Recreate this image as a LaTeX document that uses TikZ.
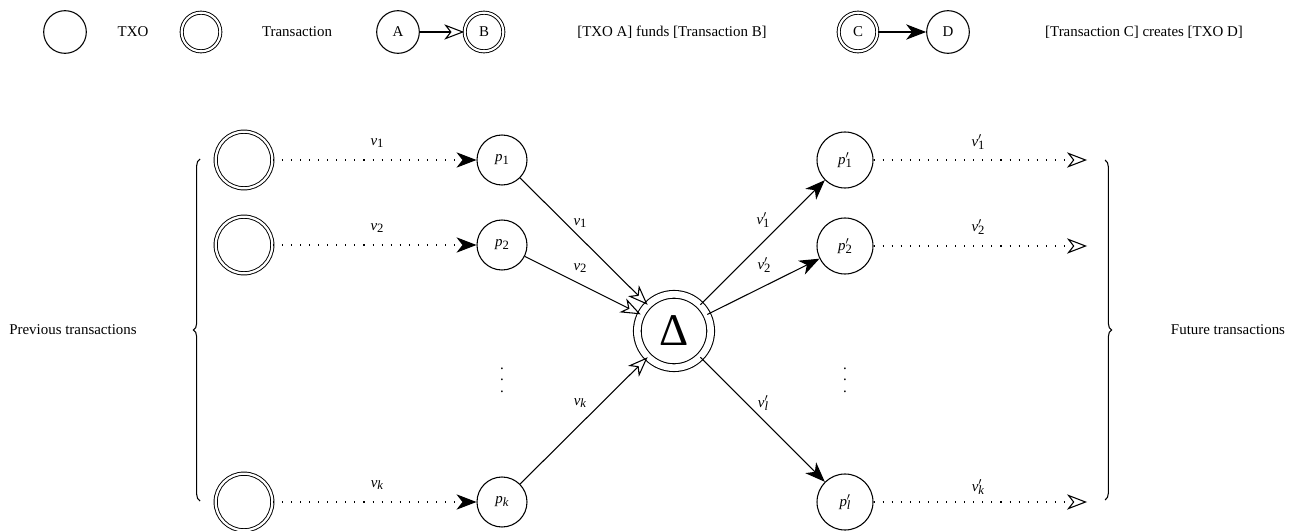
\documentclass[tikz,border=0pt]{standalone}
\usepackage{fontspec}
\setmainfont{Liberation Serif}
\usetikzlibrary{arrows.meta,decorations.pathreplacing}
\newcommand{\subfont}{\fontsize{9.5}{10}\selectfont}
\newcommand{\vlab}[2]{\textit{#1}\raisebox{-0.4ex}{\subfont #2}}
\newcommand{\vplab}[2]{\textit{#1}\rlap{\raisebox{0.2ex}{$^{\prime}$}}\raisebox{-0.4ex}{\subfont #2}}
\tikzset{
  base/.style={font=\fontsize{11.2}{13}\selectfont},
  txo/.style={circle, draw, line width=0.8pt, minimum size=32pt, inner sep=0pt},
  tx/.style={circle, draw, line width=0.7pt, double, double distance=1.6pt, minimum size=29pt, inner sep=0pt},
  pnode/.style={circle, draw, line width=0.8pt, minimum size=37.5pt, inner sep=0pt},
  ppnode/.style={circle, draw, line width=0.8pt, minimum size=42pt, inner sep=0pt},
  bigtx/.style={circle, draw, line width=0.7pt, double, double distance=1.7pt, minimum size=42.5pt, inner sep=0pt},
  deltanode/.style={circle, draw, line width=0.8pt, double, double distance=5pt, minimum size=55pt, inner sep=0pt, font=\fontsize{34}{40}\selectfont},
  lbl/.style={inner sep=0pt},
  fund/.style={line width=0.8pt, -{Stealth[open,length=15pt,width=11.5pt,inset=4.5pt]}},
  create/.style={line width=0.8pt, -{Stealth[length=15pt,width=11.5pt,inset=4.5pt]}},
  dotline/.style={dash pattern=on 0.8pt off 6pt},
  bracebar/.style={line width=0.8pt, decorate, decoration={brace, amplitude=5pt}},
}
\begin{document}
\begin{tikzpicture}[x=0.75pt, y=-0.75pt, base]
\useasboundingbox (0,0) rectangle (1296,531);
% legend
\node[txo] (ltxo) at (65,32) {};
\node (ltxot) at (133,32) {TXO};
\node[tx] (ltx) at (201,32) {};
\node (ltxt) at (297,32) {Transaction};
\node[txo] (la) at (398,32) {A};
\node[tx] (lb) at (484,32) {B};
\draw[fund] (la) -- (lb);
\node (lab) at (672,32) {[TXO A] funds [Transaction B]};
\node[tx] (lc) at (858,32) {C};
\node[txo] (ld) at (948,32) {D};
\draw[create] (lc) -- (ld);
\node (lcd) at (1144,32) {[Transaction C] creates [TXO D]};
% previous transactions
\node[bigtx] (in1) at (244,160) {};
\node[bigtx] (in2) at (244,245) {};
\node[bigtx] (ink) at (244,502) {};
\node[pnode] (p1) at (502,160) {\vlab{p}{1}};
\node[pnode] (p2) at (502,245) {\vlab{p}{2}};
\node[pnode] (pk) at (502,502) {\vlab{p}{\textit{k}}};
\draw[create, dotline] (in1) -- (p1);
\draw[create, dotline] (in2) -- (p2);
\draw[create, dotline] (ink) -- (pk);
\node[lbl] (l1) at (377,143) {\vlab{v}{1}};
\node[lbl] (l2) at (377,228) {\vlab{v}{2}};
\node[lbl] (lk) at (377,485) {\vlab{v}{\textit{k}}};
\node[lbl, align=center, font=\fontsize{11.2}{8.5}\selectfont] (vd1) at (502,380) {.\\.\\.};
% delta
\node[deltanode] (delta) at (674,331) {Δ};
\draw[fund] (p1) -- (delta);
\draw[fund] (p2) -- (delta);
\draw[fund] (pk) -- (delta);
\node[lbl] (m1) at (580,223) {\vlab{v}{1}};
\node[lbl] (m2) at (580,268) {\vlab{v}{2}};
\node[lbl] (mk) at (580,403) {\vlab{v}{\textit{k}}};
% outputs
\node[ppnode] (q1) at (845,160) {\vplab{p}{1}};
\node[ppnode] (q2) at (845,246) {\vplab{p}{2}};
\node[ppnode] (ql) at (845,502) {\vplab{p}{\textit{l}}};
\draw[create] (delta) -- (q1);
\draw[create] (delta) -- (q2);
\draw[create] (delta) -- (ql);
\node[lbl] (n1) at (763,220) {\vplab{v}{1}};
\node[lbl] (n2) at (764,265) {\vplab{v}{2}};
\node[lbl] (nl) at (763,403) {\vplab{v}{\textit{l}}};
\node[lbl, align=center, font=\fontsize{11.2}{8.5}\selectfont] (vd2) at (845,380) {.\\.\\.};
% future
\coordinate (f1) at (1087,160);
\coordinate (f2) at (1087,246);
\coordinate (fk) at (1087,502);
\draw[fund, dotline] (q1) -- (f1);
\draw[fund, dotline] (q2) -- (f2);
\draw[fund, dotline] (ql) -- (fk);
\node[lbl] (o1) at (978,142) {\vplab{v}{1}};
\node[lbl] (o2) at (978,227) {\vplab{v}{2}};
\node[lbl] (ok) at (978,487) {\vplab{v}{\textit{k}}};
% braces
\coordinate (lbB) at (200,501);
\coordinate (lbT) at (200,159);
\draw[bracebar] (lbB) -- (lbT);
\coordinate (rbT) at (1105,160);
\coordinate (rbB) at (1105,500);
\draw[bracebar] (rbT) -- (rbB);
\node (prev) at (73,330) {Previous transactions};
\node (fut) at (1228,330) {Future transactions};
\end{tikzpicture}
\end{document}
